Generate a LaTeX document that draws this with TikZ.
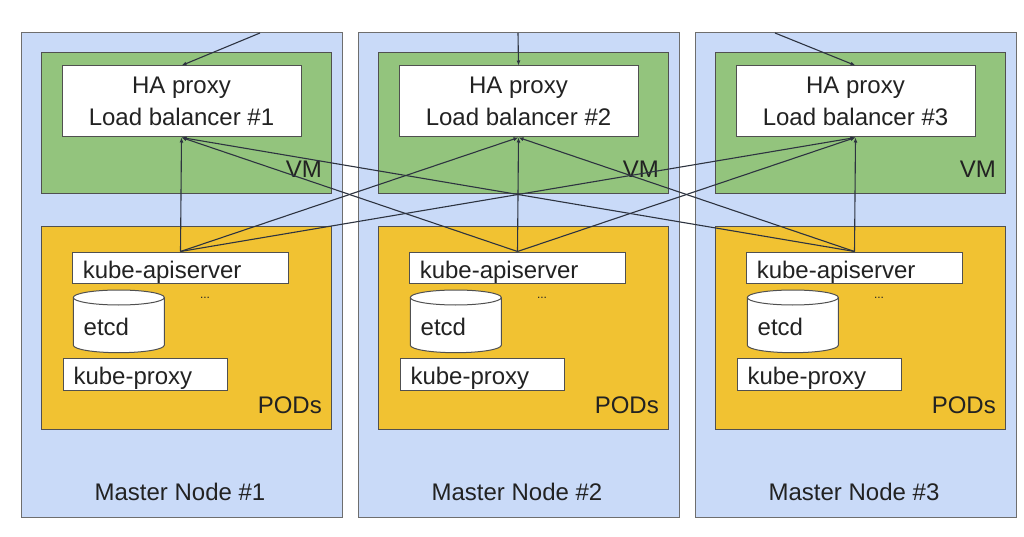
\documentclass[tikz,border=0pt]{standalone}
\usepackage{fontspec}
\setmainfont{Liberation Sans}
\usetikzlibrary{arrows.meta}
\definecolor{mblue}{HTML}{C9DAF8}
\definecolor{vmgreen}{HTML}{93C47D}
\definecolor{podyellow}{HTML}{F1C232}
\definecolor{outline}{HTML}{505050}
\definecolor{mline}{HTML}{6E6E6E}
\definecolor{conncol}{HTML}{2D3340}
\definecolor{txt}{HTML}{222222}
\begin{document}
\begin{tikzpicture}[x=1pt,y=-1pt,
  master/.style={draw=mline, fill=mblue, line width=1pt},
  vmbox/.style={draw=outline, fill=vmgreen, line width=1pt},
  podbox/.style={draw=outline, fill=podyellow, line width=1pt},
  lbbox/.style={draw=outline, fill=white, line width=1pt, minimum width=239pt, minimum height=71pt,
    inner sep=0pt, align=center, text=txt, font=\fontsize{24}{32}\selectfont},
  svcbox/.style={draw=outline, fill=white, line width=1pt, inner ysep=0pt, inner xsep=10pt,
    align=left, text=txt, font=\fontsize{24}{28}\selectfont, text height=21pt, text depth=0pt},
  cylst/.style={draw=outline, fill=white, line width=1pt},
  lbl/.style={inner sep=0pt, text=txt, font=\fontsize{24}{28}\selectfont},
  dotslbl/.style={inner sep=0pt, text=txt, font=\fontsize{12}{14}\selectfont},
  conn/.style={draw=conncol, line width=1.1pt, -{Latex[length=5pt,width=4pt]}}
]
\useasboundingbox[fill=white] (0,0) rectangle (1024,537);

\foreach \i/\dx in {1/0,2/337,3/674}{
  \begin{scope}[xshift=\dx pt]
    \draw[master] (21,33) rectangle (342,517);
    \draw[vmbox] (41,53) rectangle (331,194);
    \draw[podbox] (41,227) rectangle (331,429);
    \node[lbbox] (lb\i) at (181.5,101.5) {HA proxy\\Load balancer \#\i};
    \node[lbl, anchor=base east] (vm\i) at (322,178) {VM};
    \node[svcbox, text width=195.5pt, minimum height=31pt] (api\i) at (180.5,267.5) {kube-apiserver};
    \draw[cylst] (73.3,297.5) -- (73.3,345.2)
      arc[start angle=180, end angle=360, x radius=45.5pt, y radius=7.5pt]
      -- (164.3,297.5)
      arc[start angle=0, end angle=180, x radius=45.5pt, y radius=7.5pt] -- cycle;
    \draw[cylst, fill=none] (73.3,297.5)
      arc[start angle=180, end angle=360, x radius=45.5pt, y radius=7.5pt];
    \node[lbl, anchor=base west] (etcd\i) at (83.5,335) {etcd};
    \node[dotslbl, anchor=base] (dots\i) at (205,298) {...};
    \node[svcbox, text width=144pt, text height=19pt, minimum height=32pt] (proxy\i) at (145.5,374.5) {kube-proxy};
    \node[lbl, anchor=base east] (pods\i) at (322,413) {PODs};
    \node[lbl, anchor=base] (mname\i) at (180,500) {Master Node \#\i};
  \end{scope}
}

\coordinate (in1) at (260,33);
\coordinate (in2) at (518,33);
\coordinate (in3) at (775,33);
\foreach \t in {1,2,3}{
  \draw[conn] (in\t) -- (lb\t.north);
}
\foreach \s in {1,2,3}{
  \foreach \t in {1,2,3}{
    \draw[conn] (api\s.north) -- (lb\t.south);
  }
}
\end{tikzpicture}
\end{document}
